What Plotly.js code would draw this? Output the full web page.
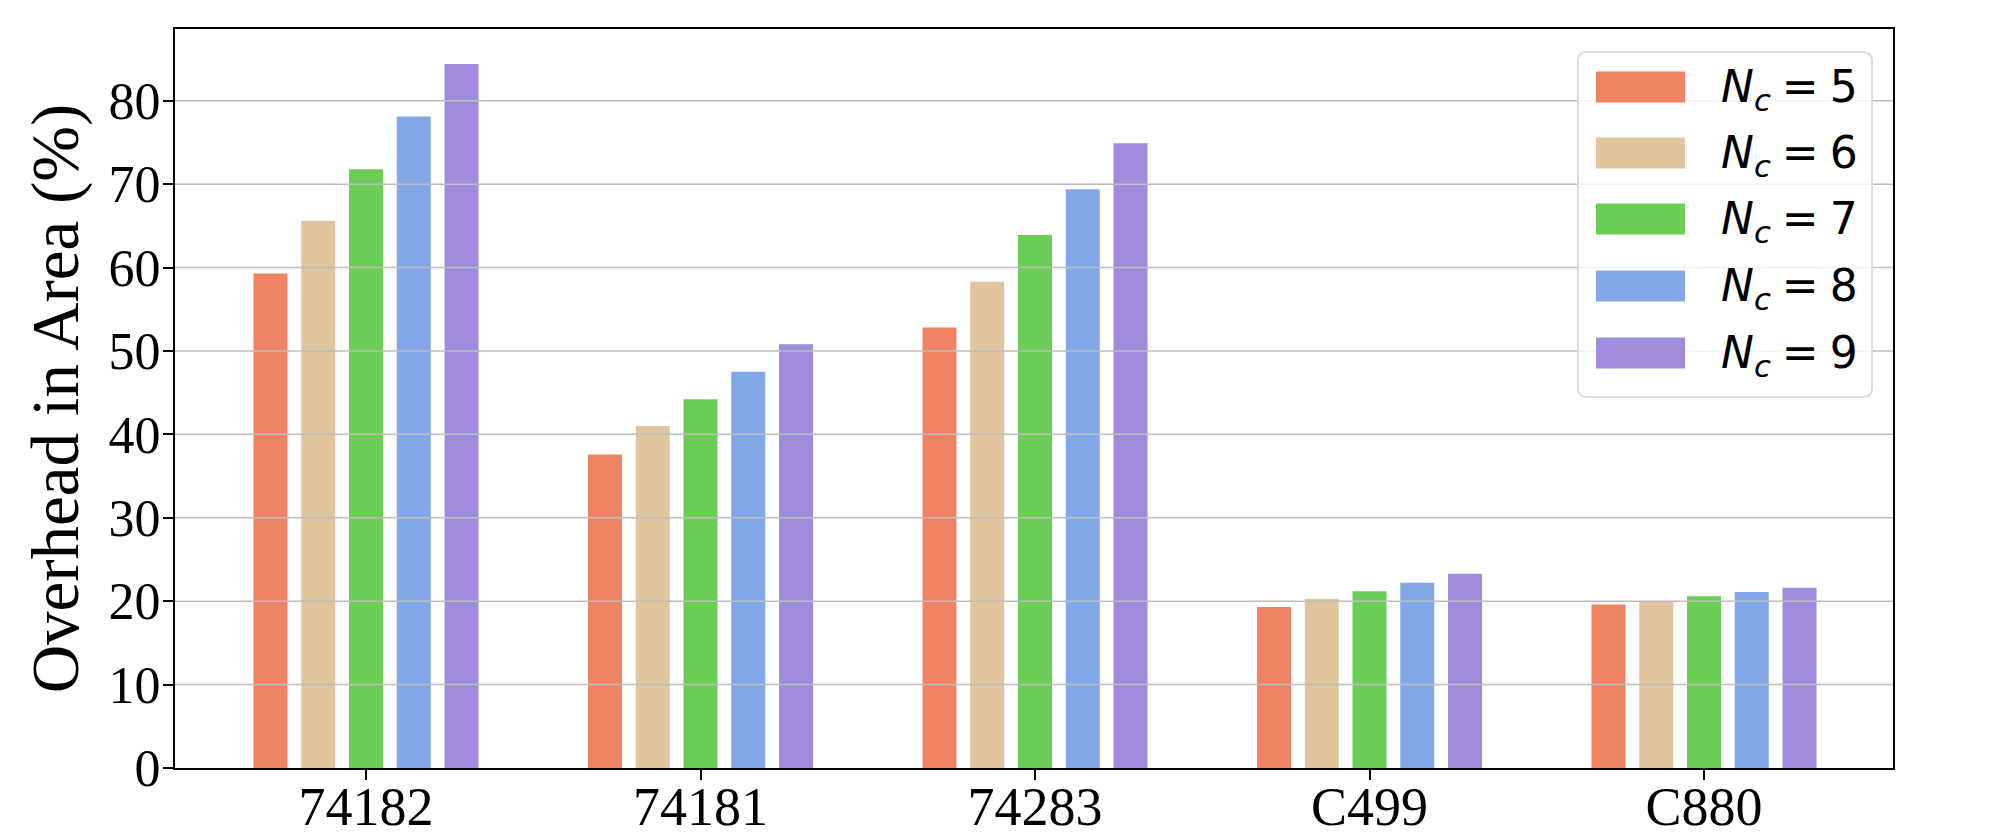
<!DOCTYPE html>
<html>
<head>
<meta charset="utf-8">
<script src="https://cdn.plot.ly/plotly-3.0.1.min.js"></script>
<style>
  html, body { margin: 0; padding: 0; background: #ffffff; }
  #chart { width: 2016px; height: 840px; }
</style>
</head>
<body>
<div id="chart"></div>
<script>
// circuits on the x axis
const categories = ['74182', '74181', '74283', 'C499', 'C880'];

// overhead in area (%) for each number of copies N_c
const nc5 = [59.3, 37.6, 52.8, 19.3, 19.6];
const nc6 = [65.6, 41.0, 58.3, 20.3, 19.9];
const nc7 = [71.8, 44.2, 63.9, 21.2, 20.6];
const nc8 = [78.1, 47.5, 69.4, 22.2, 21.1];
const nc9 = [84.4, 50.8, 74.9, 23.3, 21.6];

const ncLabels = ['5', '6', '7', '8', '9'];
const yTicks = [0, 10, 20, 30, 40, 50, 60, 70, 80];

const series = [nc5, nc6, nc7, nc8, nc9];
const colors = ['#F08363', '#E0C59F', '#6BCE57', '#82A8EA', '#A18BDC'];

// plot box in pixels (used for legend placement only)
const W = 2016, H = 840;
const L = 175, R = 1893, T = 29, B = 768;
const px = x => (x - L) / (R - L);
const py = y => (B - y) / (B - T);

const traces = series.map((vals, i) => ({
    type: 'bar',
    x: categories,
    y: vals,
    name: 'N_c = ' + ncLabels[i],
    marker: { color: colors[i], line: { width: 0 } },
    showlegend: false,
    hoverinfo: 'x+y'
}));

// gridlines drawn on top of the bars, like the original
const shapes = yTicks.filter(v => v > 0).map(v => ({
    type: 'line', xref: 'paper', yref: 'y', layer: 'above',
    x0: 0, x1: 1, y0: v, y1: v,
    line: { color: '#bdbdbd', width: 1.5 }
}));

// legend box with rounded corners
function roundRect(x0, y0, x1, y1, r) {
    const rx = r / (R - L), ry = r / (B - T);
    const a = px(x0), b = px(x1), top = py(y0), bot = py(y1);
    return `M${a + rx},${top} L${b - rx},${top} Q${b},${top} ${b},${top - ry} ` +
        `L${b},${bot + ry} Q${b},${bot} ${b - rx},${bot} L${a + rx},${bot} ` +
        `Q${a},${bot} ${a},${bot + ry} L${a},${top - ry} Q${a},${top} ${a + rx},${top} Z`;
}
shapes.push({
    type: 'path', xref: 'paper', yref: 'paper', layer: 'above',
    path: roundRect(1578, 52, 1872, 397, 9),
    fillcolor: 'rgba(255,255,255,0.8)',
    line: { color: '#dcdcdc', width: 2 }
});

const annotations = [];
const rowY = [87, 153, 219, 286, 353];
ncLabels.forEach((lab, i) => {
    shapes.push({
        type: 'rect', xref: 'paper', yref: 'paper', layer: 'above',
        x0: px(1596), x1: px(1685), y0: py(rowY[i] - 15.5), y1: py(rowY[i] + 15.5),
        fillcolor: colors[i], line: { width: 0 }
    });
    annotations.push({
        xref: 'paper', yref: 'paper', x: px(1719), y: py(rowY[i] + 2),
        xanchor: 'left', yanchor: 'middle', showarrow: false,
        text: '<i>N</i><sub><i>c</i></sub>\u2005=\u2005' + lab,
        font: { family: 'DejaVu Sans', size: 44, color: '#000000' }
    });
});

const layout = {
    width: W, height: H,
    margin: { l: L, r: W - R, t: T, b: H - B, pad: 0 },
    paper_bgcolor: '#ffffff',
    plot_bgcolor: '#ffffff',
    barmode: 'group',
    bargap: 0.286,
    bargroupgap: 0.288,
    font: { family: 'Liberation Serif', color: '#000000' },
    xaxis: {
        type: 'category',
        range: [-0.571, 4.565],
        showgrid: false,
        showline: true, mirror: true, linecolor: '#000000', linewidth: 2,
        ticks: 'outside', ticklen: 10, tickwidth: 2, tickcolor: '#000000',
        tickfont: { family: 'Liberation Serif', size: 54, color: '#000000' },
        ticklabelstandoff: -20,
        zeroline: false, fixedrange: true
    },
    yaxis: {
        range: [0, 88.6],
        tickvals: yTicks,
        showgrid: false,
        showline: true, mirror: true, linecolor: '#000000', linewidth: 2,
        ticks: 'outside', ticklen: 10, tickwidth: 2, tickcolor: '#000000',
        tickfont: { family: 'Liberation Serif', size: 52, color: '#000000' },
        ticklabelstandoff: -8,
        zeroline: false, fixedrange: true,
        title: {
            text: 'Overhead in Area (%)',
            font: { family: 'Liberation Serif', size: 67, color: '#000000' },
            standoff: 8
        }
    },
    shapes: shapes,
    annotations: annotations
};

Plotly.newPlot('chart', traces, layout, { displayModeBar: false, staticPlot: true });
</script>
</body>
</html>
